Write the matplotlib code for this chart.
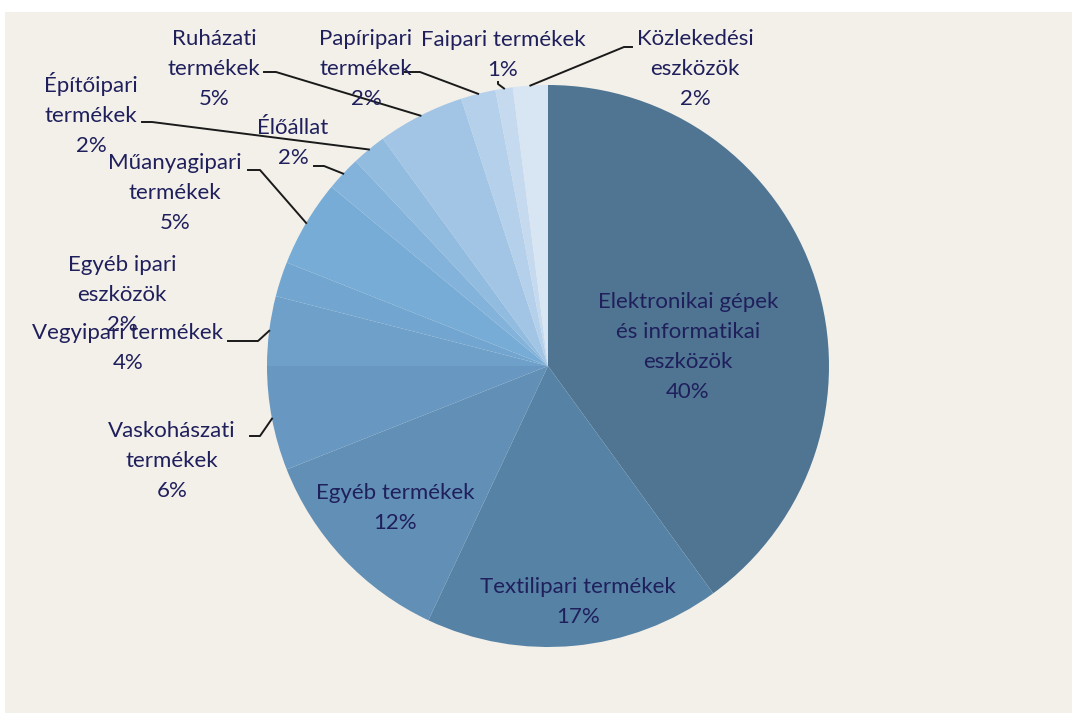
import numpy as np
import matplotlib.pyplot as plt
from matplotlib.patches import Rectangle

# share of export by product group (%), clockwise from 12 o'clock
categories = [
    "Elektronikai gépek\nés informatikai\neszközök",
    "Textilipari termékek",
    "Egyéb termékek",
    "Vaskohászati\ntermékek",
    "Vegyipari termékek",
    "Egyéb ipari\neszközök",
    "Műanyagipari\ntermékek",
    "Élőállat",
    "Építőipari\ntermékek",
    "Ruházati\ntermékek",
    "Papíripari\ntermékek",
    "Faipari termékek",
    "Közlekedési\neszközök",
]
values = [40, 17, 12, 6, 4, 2, 5, 2, 2, 5, 2, 1, 2]
colors = ["#4f7592", "#5683a5", "#628fb5", "#6898c1", "#6ea0c9", "#72a6d0",
          "#77acd7", "#83b3db", "#91bbdf", "#a2c5e5", "#b4d0ea", "#c5daef", "#d8e5f3"]

# label layout in pixels (x, y from top); leader: (text end, knee) or None
label_pos = [(688, 347), (578, 602), (395, 508), (172, 461), (128, 348), (122, 295),
             (175, 193), (293, 143), (91, 114), (214, 69), (366, 69), (503, 55), (695, 69)]
leaders = [None, None, None,
           [(250, 436), (260, 436)],
           [(228, 341), (258, 341)],
           None,
           [(248, 170), (260, 170)],
           [(314, 166), (324, 166)],
           [(142, 122), (152, 122)],
           [(264, 72), (276, 72)],
           [(405, 72), (420, 72)],
           [(498, 82), (498, 84)],
           [(632, 47), (624, 47)]]

W, H = 1072, 713
cx, cy, r = 548, 366, 281
text_color = "#1f1f5c"

fig = plt.figure(figsize=(W / 100, H / 100), dpi=100, facecolor="white")
ax = fig.add_axes([0, 0, 1, 1])

# inverted y -> math counter-clockwise shows as clockwise on screen
wedges, _ = ax.pie(values, colors=colors, startangle=-90, counterclock=True,
                   center=(cx, cy), radius=r, wedgeprops=dict(linewidth=0))
ax.set_xlim(0, W)
ax.set_ylim(H, 0)
ax.set_aspect("auto")
ax.axis("off")
ax.add_patch(Rectangle((5, 12), W - 5, H - 12, facecolor="#f3f0ea", edgecolor="none", zorder=-5))

for w, name, v, (tx, ty), ld in zip(wedges, categories, values, label_pos, leaders):
    ax.text(tx, ty, f"{name}\n{v}%", ha="center", va="center", fontsize=16,
            family="Lato", color=text_color, linespacing=1.62, zorder=5)
    if ld is not None:
        mid = np.deg2rad((w.theta1 + w.theta2) / 2)
        px, py = cx + r * np.cos(mid), cy + r * np.sin(mid)
        xs = [ld[0][0], ld[1][0], px]
        ys = [ld[0][1], ld[1][1], py]
        ax.plot(xs, ys, color="#1a1a1a", lw=1.4, zorder=4)

fig.savefig("out.png", dpi=100, facecolor=fig.get_facecolor())
